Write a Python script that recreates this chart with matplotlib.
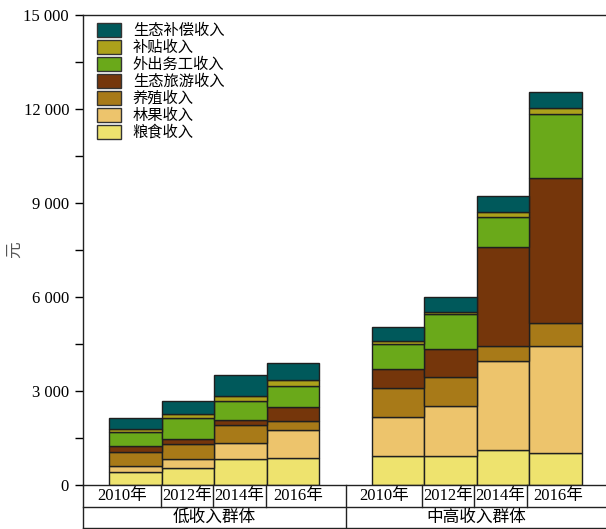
import matplotlib
matplotlib.use("Agg")
import matplotlib.pyplot as plt
import matplotlib.transforms as mtransforms
from matplotlib.patches import Patch
from matplotlib.ticker import MultipleLocator, FuncFormatter
import numpy as np

plt.rcParams['font.family'] = ['Liberation Serif', 'Noto Sans CJK SC']

# Income groups and survey years
groups = ["低收入群体", "中高收入群体"]
years = ["2010年", "2012年", "2014年", "2016年"]

# Income sources, stacked bottom to top
sources = ["粮食收入", "林果收入", "养殖收入", "生态旅游收入",
           "外出务工收入", "补贴收入", "生态补偿收入"]
colors = ["#EEE36E", "#EDC46C", "#A87A18", "#75360B",
          "#6AA91A", "#ACA11B", "#00595B"]

# Values (元) per source; first 4 = low-income group, last 4 = mid/high-income group
grain     = [415, 553, 840, 862, 926, 926, 1107, 1031]
fruit     = [182, 267, 490, 893, 1254, 1585, 2860, 3396]
livestock = [446, 478, 575, 298, 906, 946, 479, 733]
tourism   = [212, 170, 180, 426, 616, 873, 3140, 4638]
migrant   = [426, 660, 586, 691, 798, 1118, 958, 2042]
subsidy   = [96, 127, 180, 181, 106, 84, 179, 202]
eco_comp  = [351, 416, 660, 532, 426, 478, 510, 511]

series = [grain, fruit, livestock, tourism, migrant, subsidy, eco_comp]

fig = plt.figure(figsize=(6.06, 5.29), dpi=100)
ax = fig.add_axes([83 / 606, 44 / 529, 525 / 606, 470 / 529])

x = np.array([0, 1, 2, 3, 5, 6, 7, 8], dtype=float)
bottom = np.zeros(len(x))
for vals, col in zip(series, colors):
    vals = np.array(vals, dtype=float)
    ax.bar(x, vals, width=1.0, bottom=bottom, color=col,
           edgecolor="#1f1f1f", linewidth=1.0)
    bottom += vals

ax.set_xlim(-1, 9)
ax.set_ylim(0, 15000)
ax.yaxis.set_major_locator(MultipleLocator(3000))
ax.yaxis.set_minor_locator(MultipleLocator(1500))
ax.yaxis.set_major_formatter(FuncFormatter(lambda v, p: f"{int(v):,}".replace(",", " ")))
ax.tick_params(axis="y", which="both", direction="out", length=6, width=1,
               labelsize=12, pad=4)
ax.set_xticks([])
for s in ax.spines.values():
    s.set_linewidth(1.0)
    s.set_color("#222222")

ax.set_ylabel("元", fontsize=12, color="#555555",
              family=["Noto Sans CJK SC", "DejaVu Sans"])
ax.yaxis.set_label_coords(-60 / 525, 0.5)

# Category table below the axis
trans = mtransforms.blended_transform_factory(ax.transData, ax.transAxes)
row1 = -22.3 / 470
row2 = -42.7 / 470
line_kw = dict(color="#222222", linewidth=1.0, clip_on=False, transform=trans)
ax.plot([-1, 9.2], [row1, row1], **line_kw)
ax.plot([-1, 9.2], [row2, row2], **line_kw)
ax.plot([-1, -1], [0, row2], **line_kw)
ax.plot([4, 4], [0, row2], **line_kw)
for b in [0.49, 1.48, 2.49, 5.46, 6.45, 7.46]:
    ax.plot([b, b], [0, row1], **line_kw)

year_pos = [-0.25, 0.99, 1.98, 3.1, 4.73, 5.95, 6.94, 8.05]
for xp, lab in zip(year_pos, years * 2):
    ax.text(xp, row1 / 2, lab, transform=trans, ha="center", va="center",
            fontsize=12)
for xp, g in zip([1.5, 6.5], groups):
    ax.text(xp, (row1 + row2) / 2, g, transform=trans, ha="center",
            va="center", fontsize=12,
            family=["Noto Sans CJK SC", "DejaVu Sans"])

# Legend, top entry first
handles = [Patch(facecolor=c, edgecolor="#333333", linewidth=1.0)
           for c in colors[::-1]]
ax.legend(handles, sources[::-1], loc="upper left",
          bbox_to_anchor=(14 / 525, 463 / 470), frameon=False,
          prop={"family": ["Noto Sans CJK SC", "DejaVu Sans"], "size": 11},
          handlelength=1.6, handleheight=1.0,
          labelspacing=0.0, handletextpad=0.75, borderpad=0,
          borderaxespad=0)

fig.savefig("out.png", dpi=100)
